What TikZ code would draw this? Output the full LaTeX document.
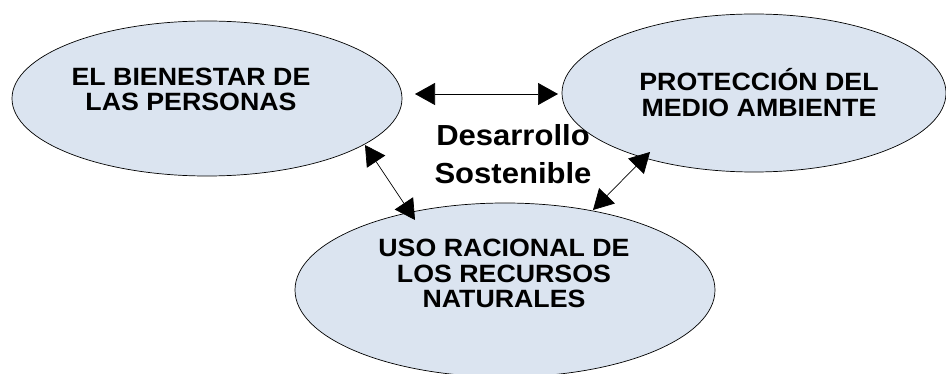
\documentclass[tikz,border=0pt]{standalone}
\usepackage{fontspec}
\setmainfont{Liberation Sans}[FakeStretch=1.07]
\usetikzlibrary{shapes.geometric,arrows.meta}
\definecolor{ellfill}{RGB}{219,228,240}
\tikzset{
  ell/.style={ellipse, draw=black, line width=0.7pt, fill=ellfill, inner sep=0pt},
  elltext/.style={align=center, font=\fontsize{25}{25.5}\selectfont\bfseries, inner sep=0pt},
  bigtext/.style={align=center, font=\fontsize{29}{38}\selectfont\bfseries, inner sep=0pt},
  dbl/.style={line width=0.7pt, {Triangle[length=20pt,width=22pt]}-{Triangle[length=20pt,width=22pt]}}
}
\begin{document}
\begin{tikzpicture}[x=1pt,y=-1pt]
\useasboundingbox (0,0) rectangle (946,374);
\node[ell, minimum width=390pt, minimum height=155pt] (bien) at (207,98.5) {};
\node[ell, minimum width=384pt, minimum height=158pt] (prot) at (754,93) {};
\node[ell, minimum width=420pt, minimum height=174pt] (uso) at (505,290) {};
\node[elltext] (tbien) at (191,89.5) {EL BIENESTAR DE\\LAS PERSONAS};
\node[elltext] (tprot) at (759,92.5) {PROTECCIÓN DEL\\MEDIO AMBIENTE};
\node[elltext] (tuso) at (504,273.5) {USO RACIONAL DE\\LOS RECURSOS\\NATURALES};
\node[bigtext] (ds) at (513,154.5) {Desarrollo\\Sostenible};
\coordinate (h1) at (415,94);
\coordinate (h2) at (558,94);
\coordinate (l1) at (365,145);
\coordinate (l2) at (415,220);
\coordinate (r1) at (650,152);
\coordinate (r2) at (593,210);
\draw[dbl] (h1) -- (h2);
\draw[dbl] (l1) -- (l2);
\draw[dbl] (r1) -- (r2);
\end{tikzpicture}
\end{document}
